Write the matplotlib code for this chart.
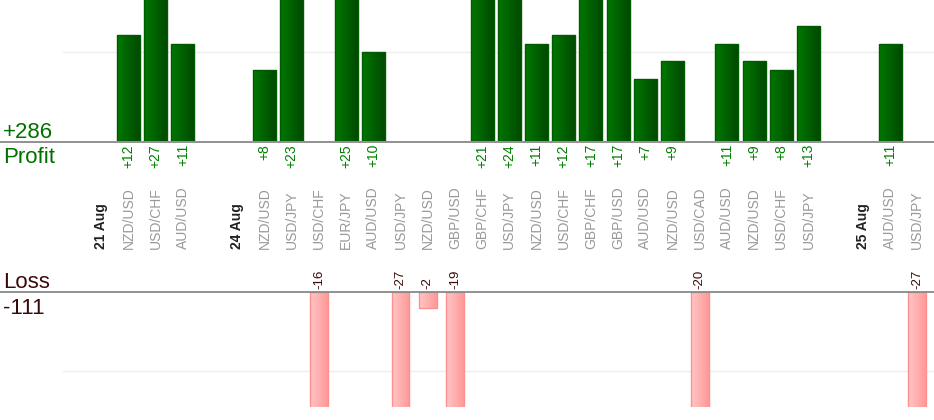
import matplotlib
matplotlib.use("Agg")
import matplotlib.pyplot as plt
import matplotlib.transforms as mtrans
from matplotlib.colors import LinearSegmentedColormap
from matplotlib.lines import Line2D
import numpy as np

plt.rcParams['font.family'] = ['Liberation Sans', 'DejaVu Sans']

# ---- data ----
slot_labels = ['21 Aug', 'NZD/USD', 'USD/CHF', 'AUD/USD', '',
               '24 Aug', 'NZD/USD', 'USD/JPY', 'USD/CHF', 'EUR/JPY', 'AUD/USD',
               'USD/JPY', 'NZD/USD', 'GBP/USD', 'GBP/CHF', 'USD/JPY', 'NZD/USD',
               'USD/CHF', 'GBP/CHF', 'GBP/USD', 'AUD/USD', 'NZD/USD', 'USD/CAD',
               'AUD/USD', 'NZD/USD', 'USD/CHF', 'USD/JPY', '',
               '25 Aug', 'AUD/USD', 'USD/JPY']
date_labels = ['21 Aug', '24 Aug', '25 Aug']
values = [None, 12, 27, 11, None,
          None, 8, 23, -16, 25, 10,
          -27, -2, -19, 21, 24, 11,
          12, 17, 17, 7, 9, -20,
          11, 9, 8, 13, None,
          None, 11, -27]

W, H = 934, 420
fig = plt.figure(figsize=(W / 100, H / 100), dpi=100)

def px_axes(x0, y_top, x1, y_bot):
    return fig.add_axes([x0 / W, 1 - y_bot / H, (x1 - x0) / W, (y_bot - y_top) / H])

ax_top = px_axes(63, 0, 934, 141)
ax_bot = px_axes(63, 292, 934, 407)

pitch = 27.2
x_left = -(101.3 - 63) / pitch
x_right = x_left + (934 - 63) / pitch
top_lim = (0, 141 / 8.85)
bot_lim = (-115 / 7.9, 0)

for ax in (ax_top, ax_bot):
    ax.set_axis_off()

pos_x = [i for i, v in enumerate(values) if v is not None and v > 0]
pos_v = [values[i] for i in pos_x]
neg_x = [i for i, v in enumerate(values) if v is not None and v < 0]
neg_v = [values[i] for i in neg_x]

green_cmap = LinearSegmentedColormap.from_list('g', ['#007800', '#004800'])
pink_cmap = LinearSegmentedColormap.from_list('p', ['#ffc6c6', '#ff9898'])
grad = np.linspace(0, 1, 64).reshape(1, -1)

def gradient_bars(ax, xs, vs, width, cmap, edge, ylim):
    bars = ax.bar(xs, vs, width=width, facecolor='none', edgecolor=edge,
                  linewidth=1.0, zorder=3)
    lo, hi = ylim
    for rect in bars:
        x0, y0 = rect.get_xy()
        w, h = rect.get_width(), rect.get_height()
        ya, yb = sorted((y0, y0 + h))
        ya, yb = max(ya, lo), min(yb, hi)
        im = ax.imshow(grad, extent=[x0, x0 + w, ya, yb], cmap=cmap,
                       aspect='auto', zorder=2, interpolation='bilinear')
        im.set_clip_path(rect)
    return bars

gradient_bars(ax_top, pos_x, pos_v, 0.85, green_cmap, '#005a00', top_lim)
gradient_bars(ax_bot, neg_x, neg_v, 0.66, pink_cmap, '#ff9090', bot_lim)

ax_top.axhline(10, color='#eeeeee', lw=1, zorder=1)
ax_bot.axhline(-10, color='#eeeeee', lw=1, zorder=1)

ax_top.set_xlim(x_left, x_right)
ax_bot.set_xlim(x_left, x_right)
ax_top.set_ylim(*top_lim)
ax_bot.set_ylim(*bot_lim)

# baselines across full width
for yb in (141.5, 292):
    fig.add_artist(Line2D([0, 1], [1 - yb / H, 1 - yb / H], color='#888888',
                          lw=1.3, transform=fig.transFigure))

tr = mtrans.blended_transform_factory(ax_top.transData, fig.transFigure)

# category labels
for i, lab in enumerate(slot_labels):
    if not lab:
        continue
    if lab in date_labels:
        fig.text(i, 1 - 249 / H, lab, transform=tr, rotation=90, ha='center',
                 va='bottom', fontsize=10, fontweight='bold', color='#222222')
    else:
        fig.text(i, 1 - 249 / H, lab, transform=tr, rotation=90, ha='center',
                 va='bottom', fontsize=10, color='#999999')

# value labels
for i, v in zip(pos_x, pos_v):
    fig.text(i, 1 - 144 / H, f'+{v}', transform=tr, rotation=90, ha='center',
             va='top', fontsize=10, color='#008000')
for i, v in zip(neg_x, neg_v):
    fig.text(i, 1 - 289 / H, f'{v}', transform=tr, rotation=90, ha='center',
             va='bottom', fontsize=9.5, color='#3a0a0a')

total_profit = sum(pos_v)
total_loss = sum(neg_v)

fig.text(3 / W, 1 - 138 / H, f'+{total_profit}', fontsize=16, color='#007000',
         ha='left', va='baseline')
fig.text(3 / W, 1 - 163 / H, 'Profit', fontsize=16, color='#007000',
         ha='left', va='baseline')
narrow = ['Liberation Sans Narrow', 'Liberation Sans', 'DejaVu Sans']
fig.text(3 / W, 1 - 288 / H, 'Loss', fontsize=16, color='#3a0a0a',
         ha='left', va='baseline', family=narrow)
fig.text(3 / W, 1 - 314 / H, f'{total_loss}', fontsize=16, color='#3a0a0a',
         ha='left', va='baseline', family=narrow)

fig.savefig('out.png', dpi=100)
